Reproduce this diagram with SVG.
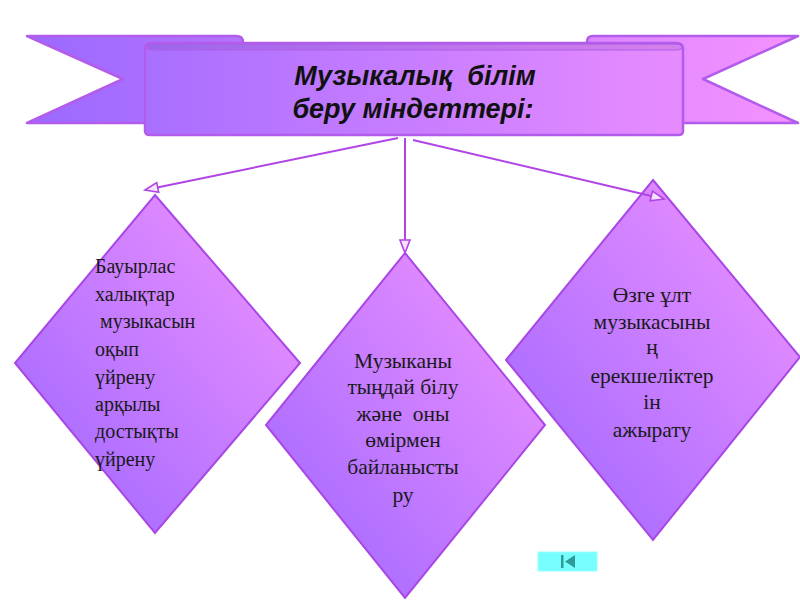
<svg xmlns="http://www.w3.org/2000/svg" width="800" height="600" viewBox="0 0 800 600">
<style>
.rib{stroke:#b25cec;stroke-width:2.5;stroke-linejoin:round}
.dia{stroke:#a846e6;stroke-width:2;fill:url(#dg)}
.conn{stroke:#b044e4;stroke-width:2;fill:none;marker-end:url(#ah)}
.title{font-family:"Liberation Sans",Arial,sans-serif;font-weight:bold;font-style:italic;font-size:27px;fill:#111;text-anchor:middle}
.lbl{font-family:"Liberation Serif","Times New Roman",serif;font-size:20px;fill:#1a1a1a}
.big{font-size:21.5px}
.c{text-anchor:middle}
</style>
<defs>
<linearGradient id="rg" gradientUnits="userSpaceOnUse" x1="20" y1="0" x2="800" y2="0">
<stop offset="0" stop-color="#9a68ff"/>
<stop offset="1" stop-color="#f592ff"/>
</linearGradient>
<linearGradient id="dg" x1="1" y1="0" x2="0" y2="1">
<stop offset="0" stop-color="#f294ff"/>
<stop offset="1" stop-color="#9b64ff"/>
</linearGradient>
<marker id="ah" markerUnits="userSpaceOnUse" markerWidth="16" markerHeight="12" refX="14" refY="6" orient="auto" viewBox="0 0 16 12">
<path d="M1,1 L14,6 L1,11 Z" fill="#f6e4ff" stroke="#b044e4" stroke-width="1.6"/>
</marker>
</defs>
<rect width="800" height="600" fill="#fff"/>
<g id="banner">
<path class="rib" fill="url(#rg)" d="M27,36 L236,36 Q243,36 243,42 Q243,48 236,48 L160,48 L160,123 L27,123 L123,79 Z"/>
<path class="rib" fill="url(#rg)" d="M798,36 L593,36 Q587,36 587,42 Q587,48 593,48 L670,48 L670,123 L798,123 L703,79 Z"/>
<path class="rib" fill="url(#rg)" d="M145,49 Q145,43 152,43 L676,43 Q683,43 683,49 L683,131 Q683,135 678,135 L150,135 Q145,135 145,131 Z"/>
<path d="M147,47 Q147,44 152,44 L676,44 Q682,44 682,47 Q682,50 676,50 L152,50 Q147,50 147,47 Z" fill="#000" fill-opacity="0.08" stroke="#b25cec" stroke-width="1.2"/>
<text class="title" x="415" y="85" xml:space="preserve">Музыкалық  білім</text>
<text class="title" x="413" y="118">беру міндеттері:</text>
</g>
<g id="node-left">
<polygon class="dia" points="155,195 300,363 155,533 15,363"/>
<text class="lbl" x="95" y="273">Бауырлас</text>
<text class="lbl" x="95" y="301">халықтар</text>
<text class="lbl" x="95" y="328" xml:space="preserve"> музыкасын</text>
<text class="lbl" x="95" y="356">оқып</text>
<text class="lbl" x="95" y="384">үйрену</text>
<text class="lbl" x="95" y="411">арқылы</text>
<text class="lbl" x="95" y="438">достықты</text>
<text class="lbl" x="95" y="466">үйрену</text>
</g>
<g id="node-middle">
<polygon class="dia" points="405,253 545,425 405,598 266,425"/>
<text class="lbl big c" x="403" y="368">Музыканы</text>
<text class="lbl big c" x="403" y="394">тыңдай білу</text>
<text class="lbl big c" x="403" y="421" xml:space="preserve">және  оны</text>
<text class="lbl big c" x="403" y="447">өмірмен</text>
<text class="lbl big c" x="403" y="474">байланысты</text>
<text class="lbl big c" x="403" y="502">ру</text>
</g>
<g id="node-right">
<polygon class="dia" points="653,180 800,357 653,540 506,360"/>
<text class="lbl big c" x="652" y="302">Өзге ұлт</text>
<text class="lbl big c" x="652" y="329">музыкасыны</text>
<text class="lbl big c" x="652" y="354">ң</text>
<text class="lbl big c" x="652" y="383">ерекшеліктер</text>
<text class="lbl big c" x="652" y="409">ін</text>
<text class="lbl big c" x="652" y="437">ажырату</text>
</g>
<g id="connectors">
<line class="conn" x1="398" y1="138" x2="145" y2="190"/>
<line class="conn" x1="405" y1="138" x2="405" y2="253"/>
<line class="conn" x1="413" y1="140" x2="664" y2="199"/>
</g>
<g id="nav-button">
<rect x="538" y="552" width="59" height="19" fill="#77ffff" stroke="#99ffff" stroke-width="1"/>
<rect x="561" y="555" width="2.5" height="13" fill="#2f9a9a"/>
<polygon points="575,555 575,568 565,561.5" fill="#2f9a9a"/>
</g>
</svg>
